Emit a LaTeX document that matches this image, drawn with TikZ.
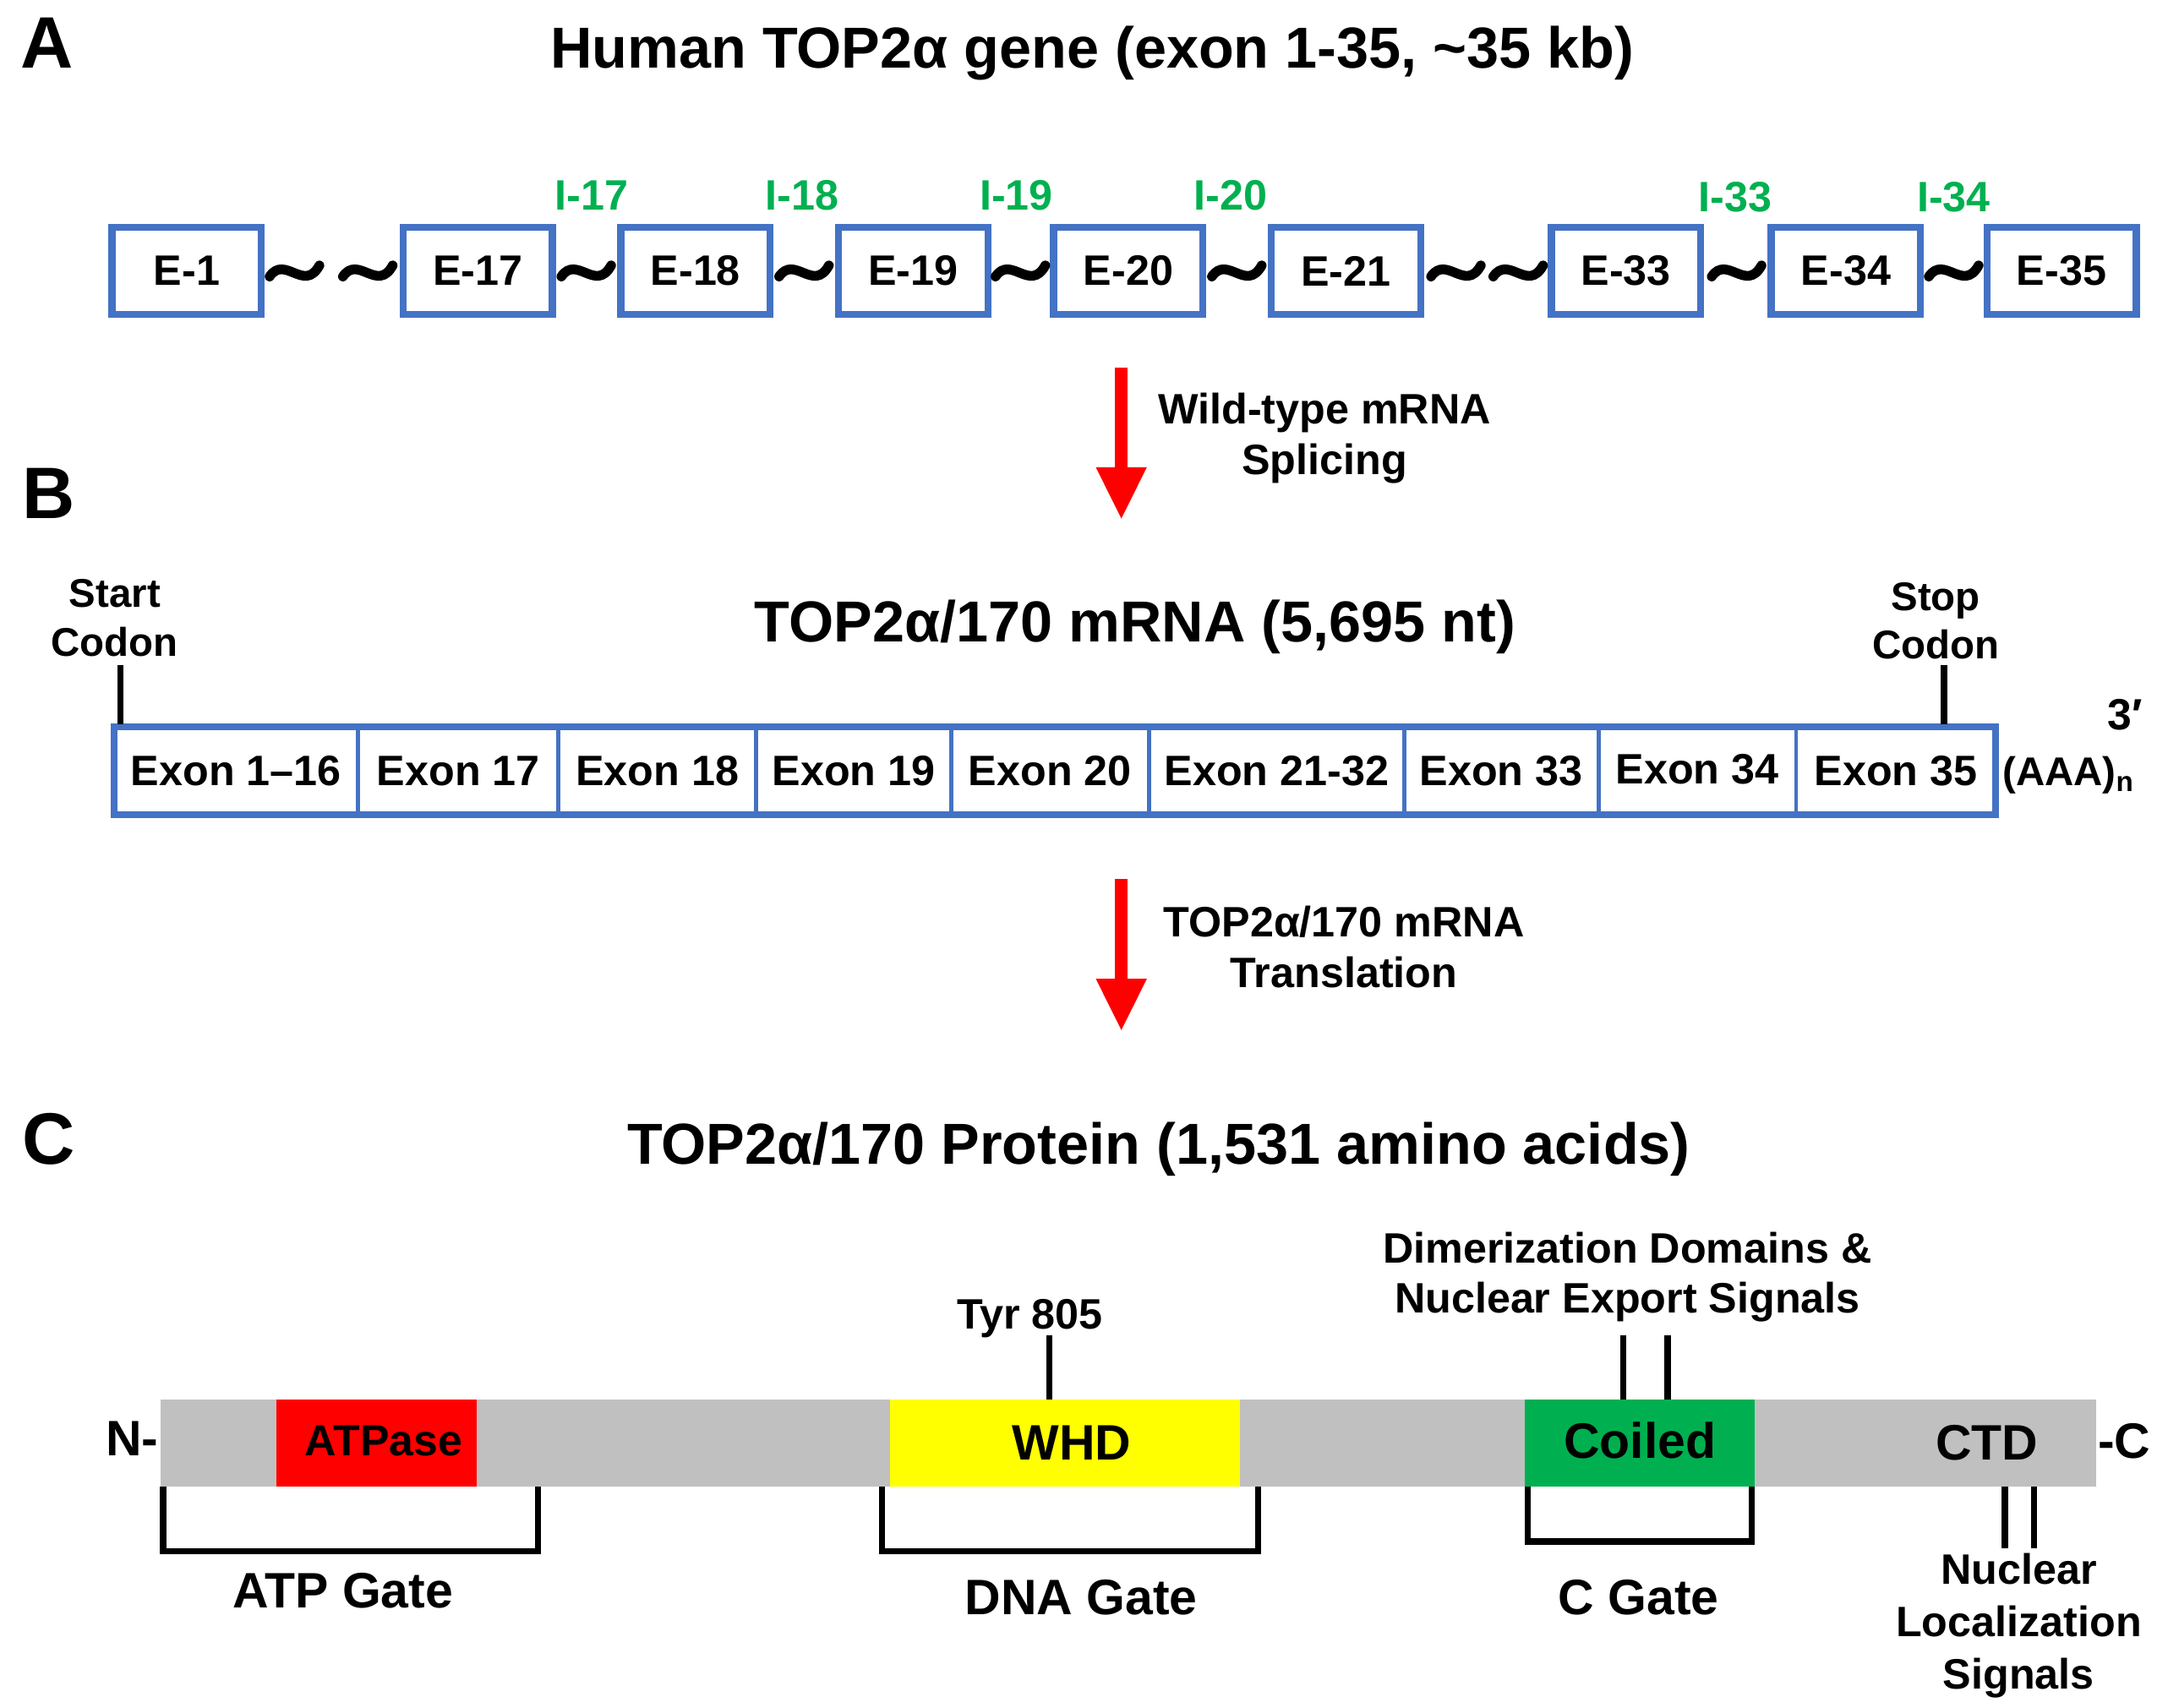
\documentclass[tikz,border=0pt]{standalone}
\usepackage{fontspec}
\setmainfont{Liberation Sans}
\usetikzlibrary{arrows.meta}
\definecolor{exblue}{RGB}{68,114,196}
\definecolor{ingreen}{RGB}{0,176,80}
\definecolor{bargray}{RGB}{192,192,192}
\definecolor{domyellow}{RGB}{255,255,0}
\definecolor{domgreen}{RGB}{0,176,80}
\definecolor{arrred}{RGB}{255,0,0}
\newcommand\fntLetter{\fontsize{30pt}{36pt}\selectfont\bfseries}
\newcommand\fntTitle{\fontsize{23.8pt}{28pt}\selectfont\bfseries}
\newcommand\fntMed{\fontsize{17.5pt}{21pt}\selectfont\bfseries}
\newcommand\fntSmall{\fontsize{16.5pt}{19.9pt}\selectfont\bfseries}
\newcommand\fntLarge{\fontsize{20.5pt}{24pt}\selectfont\bfseries}
\newcommand\fntNLS{\fontsize{17.5pt}{21.6pt}\selectfont\bfseries}
\newcommand\fntDim{\fontsize{17.5pt}{20.5pt}\selectfont\bfseries}
\newcommand\fntDom{\fontsize{18pt}{21pt}\selectfont\bfseries}
\begin{document}
\begin{tikzpicture}[x=0.2mm,y=-0.2mm,
  exbox/.style={draw=exblue,line width=1mm,fill=white,minimum width=21.6mm,minimum height=12.6mm,inner sep=0pt,font=\fntMed},
  intron/.style={text=ingreen,font=\fntMed,anchor=base,inner sep=0pt},
  squiggle/.style={line width=1.4mm,line cap=round},
  bigarrow/.style={draw=arrred,line width=1.8mm,-{Triangle[width=6.8mm,length=7.6mm]}},
  cell/.style={draw=exblue,line width=0.6mm,minimum height=12.8mm,inner sep=0pt,font=\fntMed},
  tickline/.style={line width=0.9mm},
  bracket/.style={line width=0.9mm,line join=miter},
  lbl/.style={inner sep=0pt,align=center},
  plain/.style={inner sep=0pt,anchor=base},
  dombox/.style={inner sep=0pt,minimum height=12.6mm},
]
\useasboundingbox (0,0) rectangle (1568,1235);

% ---------- Panel A ----------
\node[plain,font=\fntLetter] (lA) at (34,49) {A};
\node[plain,font=\fntTitle] (tA) at (790,49) {Human TOP2α gene (exon 1-35, \textasciitilde35 kb)};

\node[exbox] (e1)  at (135,196)   {E-1};
\node[exbox] (e17) at (345.5,196) {E-17};
\node[exbox] (e18) at (503,196)   {E-18};
\node[exbox] (e19) at (660.5,196) {E-19};
\node[exbox] (e20) at (816,196)   {E-20};
\node[exbox] (e21) at (973.5,196) {E-21};
\node[exbox] (e33) at (1176,196)  {E-33};
\node[exbox] (e34) at (1335,196)  {E-34};
\node[exbox] (e35) at (1491,196)  {E-35};

\foreach \c in {213,266,424,581.5,738,894.5,1053,1098,1256,1413}
  \draw[squiggle] (\c-18,200) .. controls (\c-7,184) and (\c+7,212) .. (\c+18,192);

\node[intron] (i17) at (428,152)  {I-17};
\node[intron] (i18) at (580,152)  {I-18};
\node[intron] (i19) at (735,152)  {I-19};
\node[intron] (i20) at (890,152)  {I-20};
\node[intron] (i33) at (1255,153) {I-33};
\node[intron] (i34) at (1413,153) {I-34};

\coordinate (s1) at (811,266);
\coordinate (t1) at (811,376);
\draw[bigarrow] (s1) -- (t1);
\node[lbl,font=\fntMed] (splice) at (958,317) {Wild-type mRNA\\Splicing};

% ---------- Panel B ----------
\node[plain,font=\fntLetter] (lB) at (35,375) {B};
\node[plain,font=\fntTitle] (tB) at (821,464) {TOP2α/170 mRNA (5,695 nt)};
\node[lbl,font=\fntSmall] (start) at (83,447) {Start\\Codon};
\node[lbl,font=\fntSmall] (stop) at (1400,449) {Stop\\Codon};

\node[cell,minimum width=35.3mm] (x1) at (170.75,557.5) {Exon 1–16};
\node[cell,minimum width=29.0mm] (x2) at (331.5,557.5) {Exon 17};
\node[cell,minimum width=28.6mm] (x3) at (475.5,557.5) {Exon 18};
\node[cell,minimum width=28.2mm] (x4) at (617.5,557.5) {Exon 19};
\node[cell,minimum width=28.6mm] (x5) at (759.5,557.5) {Exon 20};
\node[cell,minimum width=36.9mm] (x6) at (923.25,557.5) {Exon 21-32};
\node[cell,minimum width=28.1mm] (x7) at (1085.75,557.5) {Exon 33};
\node[cell,minimum width=28.6mm] (x8) at (1227.5,557.5) {\raisebox{0.6mm}{Exon 34}};
\node[cell,minimum width=28.9mm] (x9) at (1371.25,557.5) {Exon 35};
\node[draw=exblue,line width=1mm,minimum width=272.2mm,minimum height=12.8mm,inner sep=0pt] (mrna) at (763,557.5) {};

\coordinate (startpt) at (87,524);
\coordinate (stoppt) at (1406,524);
\draw[tickline] (87,481) -- (startpt);
\draw[tickline] (1406,481) -- (stoppt);

\node[plain,font=\fontsize{18pt}{20pt}\selectfont\bfseries] (three) at (1537,528) {3′};
\node[inner sep=0pt,anchor=base west,font=\fntSmall] (polyA) at (1448,568) {(AAA)\textsubscript{n}};

\coordinate (s2) at (811,636);
\coordinate (t2) at (811,746);
\draw[bigarrow] (s2) -- (t2);
\node[lbl,font=\fntMed] (transl) at (972,685) {TOP2α/170 mRNA\\Translation};

% ---------- Panel C ----------
\node[plain,font=\fntLetter] (lC) at (35,842) {C};
\node[plain,font=\fntTitle] (tC) at (838,842) {TOP2α/170 Protein (1,531 amino acids)};

\node[dombox,fill=bargray,minimum width=280mm] (bar) at (816,1043.5) {};
\node[dombox,fill=arrred,minimum width=29mm,font=\fntDom] (atp) at (272.5,1043.5) {\hspace*{2mm}\raisebox{0.6mm}{ATPase}};
\node[dombox,fill=domyellow,minimum width=50.6mm,font=\fntLarge] (whd) at (770,1043.5) {\hspace*{2mm}WHD};
\node[dombox,fill=domgreen,minimum width=33.2mm,font=\fntLarge] (coil) at (1186,1043.5) {\raisebox{0.6mm}{Coiled}};
\node[plain,font=\fntLarge] (ctd) at (1437,1056) {CTD};
\node[inner sep=0pt,anchor=base east,font=\fntLarge] (nterm) at (115,1053) {N-};
\node[inner sep=0pt,anchor=base west,font=\fntLarge] (cterm) at (1517,1055) {-C};

\node[plain,font=\fntMed] (tyr) at (745,961) {Tyr 805};
\draw[tickline] (759,966) -- (759,1012);

\node[lbl,font=\fntDim] (dimer) at (1177,924) {Dimerization Domains \&\\Nuclear Export Signals};
\draw[tickline] (1174,966) -- (1174,1012);
\draw[tickline] (1206,966) -- (1206,1012);

\draw[tickline] (1450,1075) -- (1450,1120);
\draw[tickline] (1471,1075) -- (1471,1120);
\node[lbl,font=\fntNLS] (nls) at (1460,1176) {Nuclear\\Localization\\Signals};

\draw[bracket] (118,1075) -- (118,1122) -- (389,1122) -- (389,1075);
\draw[bracket] (638,1075) -- (638,1122) -- (910,1122) -- (910,1075);
\draw[bracket] (1105,1075) -- (1105,1115) -- (1267,1115) -- (1267,1075);

\node[plain,font=\fntLarge] (atpg) at (248,1163) {ATP Gate};
\node[plain,font=\fntLarge] (dnag) at (782,1168) {DNA Gate};
\node[plain,font=\fntLarge] (cg) at (1185,1168) {C Gate};
\end{tikzpicture}
\end{document}
